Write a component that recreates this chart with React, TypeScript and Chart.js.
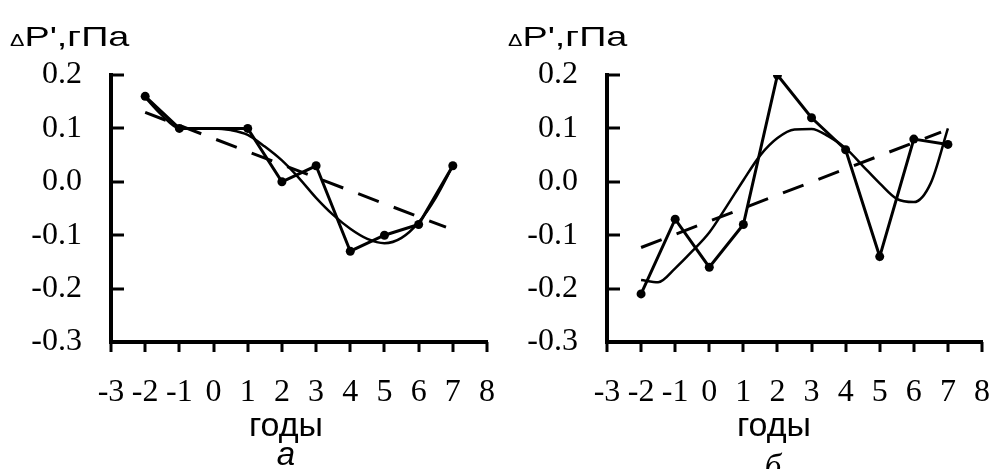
import React, { useEffect, useRef } from "react";
import { Chart, registerables } from "chart.js";

Chart.register(...registerables);

// годы с точками наблюдений
const YEARS_A = [-2, -1, 1, 2, 3, 4, 5, 6, 7];
const DP_A = [0.16, 0.1, 0.1, 0.0, 0.03, -0.13, -0.1, -0.08, 0.03];
const YEARS_B = [-2, -1, 0, 1, 2, 3, 4, 5, 6, 7];
const DP_B = [-0.21, -0.07, -0.16, -0.08, 0.2, 0.12, 0.06, -0.14, 0.08, 0.07];

// smooth fit, every half year
const FIT_YEARS = [-2, -1.5, -1, -0.5, 0, 0.5, 1, 1.5, 2, 2.5, 3, 3.5, 4, 4.5, 5, 5.5, 6, 6.5, 7];
const FIT_A = [0.158, 0.124, 0.1, 0.1, 0.1, 0.097, 0.088, 0.066, 0.04, 0.007, -0.03, -0.062, -0.088, -0.107, -0.115, -0.105, -0.076, -0.03, 0.03];
const FIT_B = [-0.184, -0.188, -0.162, -0.13, -0.095, -0.047, 0.003, 0.05, 0.082, 0.098, 0.099, 0.085, 0.063, 0.03, -0.003, -0.032, -0.038, -0.002, 0.1];

// linear trend (dashed)
const TREND_YEARS = [-2, 6.8];
const TREND_A = [0.13, -0.085];
const TREND_B = [-0.123, 0.093];

const X_MIN = -3;
const X_MAX = 8;
const Y_MIN = -0.3;
const Y_MAX = 0.2;

const SERIF = "'Liberation Serif', 'Times New Roman', serif";
const SANS = "'Liberation Sans', Arial, sans-serif";

const pts = (xs: number[], ys: number[]) => xs.map((x, i) => ({ x, y: ys[i] }));

// y ticks point into the plot, x ticks hang 10px below the axis
const axisTicks = {
  id: "axisTicks",
  afterDatasetsDraw(chart: Chart) {
    const { ctx, chartArea, scales } = chart;
    const { x, y } = scales;
    ctx.save();
    ctx.strokeStyle = "#000";
    ctx.lineWidth = 3;
    y.ticks.forEach((t) => {
      const py = Math.round(y.getPixelForValue(t.value));
      ctx.beginPath();
      ctx.moveTo(chartArea.left, py);
      ctx.lineTo(chartArea.left + 13, py);
      ctx.stroke();
    });
    x.ticks.forEach((t) => {
      const px = Math.round(x.getPixelForValue(t.value));
      ctx.beginPath();
      ctx.moveTo(px, chartArea.bottom);
      ctx.lineTo(px, chartArea.bottom + 10);
      ctx.stroke();
    });
    ctx.restore();
  },
};

interface PanelProps {
  years: number[];
  values: number[];
  fit: number[];
  trend: number[];
  axisWidth: number;
  padRight: number;
}

const Panel: React.FC<PanelProps> = ({ years, values, fit, trend, axisWidth, padRight }) => {
  const canvasRef = useRef<HTMLCanvasElement>(null);

  useEffect(() => {
    if (!canvasRef.current) return;
    const chart = new Chart(canvasRef.current, {
      type: "line",
      data: {
        datasets: [
          {
            data: pts(TREND_YEARS, trend),
            borderColor: "#000",
            borderWidth: 3,
            borderDash: [22, 16],
            pointRadius: 0,
            tension: 0,
          },
          {
            data: pts(FIT_YEARS, fit),
            borderColor: "#000",
            borderWidth: 2.5,
            pointRadius: 0,
            cubicInterpolationMode: "monotone",
          },
          {
            data: pts(years, values),
            borderColor: "#000",
            borderWidth: 3,
            pointRadius: 4.5,
            pointBackgroundColor: "#000",
            pointBorderColor: "#000",
            pointBorderWidth: 0,
            tension: 0,
          },
        ],
      },
      options: {
        responsive: false,
        animation: false,
        layout: { padding: { top: 75, right: padRight, left: 0, bottom: 0 } },
        plugins: { legend: { display: false }, tooltip: { enabled: false } },
        scales: {
          x: {
            type: "linear",
            min: X_MIN,
            max: X_MAX,
            afterFit: (s) => { s.height = 127; },
            border: { display: true, color: "#000", width: 4 },
            grid: { display: true, drawOnChartArea: false, drawTicks: true, tickLength: 31, tickColor: "rgba(0,0,0,0)" },
            ticks: { stepSize: 1, color: "#000", padding: 0, maxRotation: 0, autoSkip: false, font: { family: SERIF, size: 32 } },
          },
          y: {
            min: Y_MIN,
            max: Y_MAX,
            afterFit: (s) => { s.width = axisWidth; },
            border: { display: true, color: "#000", width: 4 },
            grid: { display: false },
            ticks: {
              stepSize: 0.1,
              color: "#000",
              padding: 21,
              font: { family: SERIF, size: 32 },
              callback: (v) => (Math.abs(Number(v)) < 1e-9 ? 0 : Number(v)).toFixed(1),
            },
          },
        },
      },
      plugins: [axisTicks],
    });
    return () => chart.destroy();
  }, [years, values, fit, trend, axisWidth, padRight]);

  return <canvas ref={canvasRef} width={495} height={469} />;
};

const yLabel = (left: number) => (
  <div
    style={{
      position: "absolute",
      left,
      top: 23,
      fontFamily: SANS,
      fontSize: 28,
      lineHeight: 1,
      whiteSpace: "nowrap",
      transform: "scaleX(1.35)",
      transformOrigin: "0 0",
    }}
  >
    <span style={{ fontSize: 16 }}>Δ</span>P',гПа
  </div>
);

const centered = (cx: number, top: number, text: string, style: React.CSSProperties) => (
  <div style={{ position: "absolute", left: cx - 80, width: 160, top, textAlign: "center", lineHeight: 1, ...style }}>{text}</div>
);

export default function App() {
  return (
    <div style={{ position: "absolute", left: 0, top: 0, width: 991, height: 469, overflow: "hidden", background: "#fff", color: "#000" }}>
      <div style={{ position: "absolute", left: 0, top: 0 }}>
        <Panel years={YEARS_A} values={DP_A} fit={FIT_A} trend={TREND_A} axisWidth={111} padRight={8} />
      </div>
      <div style={{ position: "absolute", left: 495, top: 0 }}>
        <Panel years={YEARS_B} values={DP_B} fit={FIT_B} trend={TREND_B} axisWidth={112} padRight={8} />
      </div>
      {yLabel(10)}
      {yLabel(508)}
      {centered(286, 407, "годы", { fontFamily: SANS, fontSize: 34 })}
      {centered(774, 407, "годы", { fontFamily: SANS, fontSize: 34 })}
      {centered(286, 437, "а", { fontFamily: SANS, fontSize: 33, fontStyle: "italic" })}
      {centered(773, 450, "б", { fontFamily: SERIF, fontSize: 33, fontStyle: "italic" })}
    </div>
  );
}
